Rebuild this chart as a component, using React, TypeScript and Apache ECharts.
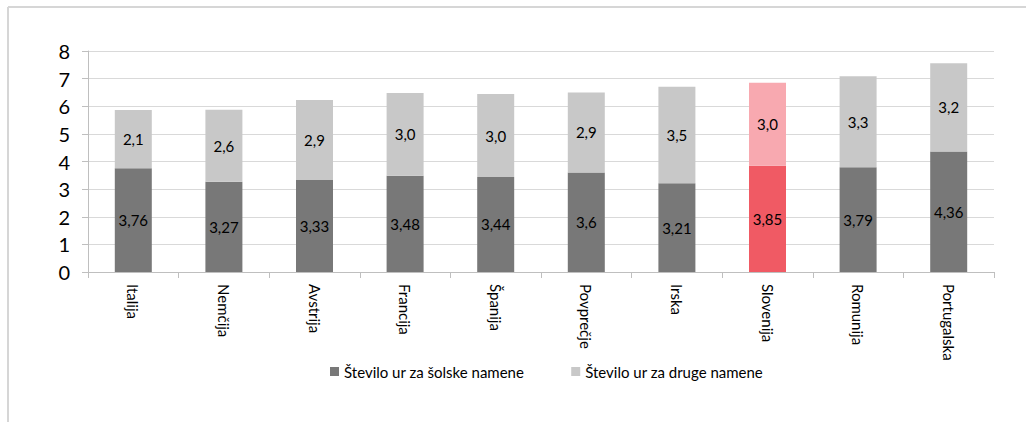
import React, { useEffect, useRef } from "react";
import * as echarts from "echarts";

const categories = [
  "Italija",
  "Nemčija",
  "Avstrija",
  "Francija",
  "Španija",
  "Povprečje",
  "Irska",
  "Slovenija",
  "Romunija",
  "Portugalska",
];
const schoolHours = [3.76, 3.27, 3.33, 3.48, 3.44, 3.6, 3.21, 3.85, 3.79, 4.36];
const otherHours = [2.1, 2.6, 2.9, 3.0, 3.0, 2.9, 3.5, 3.0, 3.3, 3.2];
const yTicks = [0, 1, 2, 3, 4, 5, 6, 7, 8];
const highlight = "Slovenija";

const FONT = "Lato, 'Open Sans', sans-serif";
const DARK = "#787878";
const LIGHT = "#c8c8c8";
const RED_DARK = "#f05a64";
const RED_LIGHT = "#f8a9b0";

const comma = (v: number, digits?: number) =>
  (digits === undefined ? String(v) : v.toFixed(digits)).replace(".", ",");

export default function App() {
  const ref = useRef<HTMLDivElement>(null);

  useEffect(() => {
    if (!ref.current) return;
    const chart = echarts.init(ref.current, null, { renderer: "svg" });

    const schoolData = schoolHours.map((v, i) => ({
      value: v,
      itemStyle: { color: categories[i] === highlight ? RED_DARK : DARK },
    }));
    const otherData = otherHours.map((v, i) => ({
      value: v,
      itemStyle: { color: categories[i] === highlight ? RED_LIGHT : LIGHT },
    }));

    chart.setOption({
      animation: false,
      backgroundColor: "#ffffff",
      textStyle: { fontFamily: FONT },
      grid: { left: 88, right: 32, top: 51, bottom: 150, containLabel: false },
      legend: {
        left: 325,
        top: 359,
        itemWidth: 9,
        itemHeight: 9,
        itemGap: 47,
        icon: "rect",
        textStyle: { fontFamily: FONT, fontSize: 15, color: "#000" },
        data: [
          { name: "Število ur za šolske namene", itemStyle: { color: DARK } },
          { name: "Število ur za druge namene", itemStyle: { color: LIGHT } },
        ],
      },
      graphic: [
        {
          type: "line",
          shape: { x1: 8, y1: 7, x2: 1026, y2: 7 },
          style: { stroke: "#d6d6d6", lineWidth: 2 },
        },
        {
          type: "line",
          shape: { x1: 8, y1: 7, x2: 8, y2: 422 },
          style: { stroke: "#d6d6d6", lineWidth: 2 },
        },
      ],
      xAxis: {
        type: "category",
        data: categories,
        axisLine: { show: true, lineStyle: { color: "#bfbfbf", width: 1 } },
        axisTick: { show: true, length: 6, alignWithLabel: false, lineStyle: { color: "#bfbfbf" } },
        axisLabel: {
          rotate: -90,
          interval: 0,
          margin: 12,
          fontFamily: FONT,
          fontSize: 15,
          color: "#000",
        },
      },
      yAxis: {
        type: "value",
        min: yTicks[0],
        max: yTicks[yTicks.length - 1],
        interval: 1,
        axisLine: { show: true, lineStyle: { color: "#bfbfbf", width: 1 } },
        axisTick: { show: true, length: 6, lineStyle: { color: "#bfbfbf" } },
        splitLine: { show: true, lineStyle: { color: "#d9d9d9", width: 1 } },
        axisLabel: {
          margin: 18,
          fontFamily: FONT,
          fontSize: 20,
          color: "#000",
        },
      },
      series: [
        {
          name: "Število ur za šolske namene",
          type: "bar",
          stack: "hours",
          barWidth: 37,
          data: schoolData,
          label: {
            show: true,
            position: "inside",
            fontFamily: FONT,
            fontSize: 15,
            color: "#000",
            formatter: (p: any) => comma(p.value),
          },
        },
        {
          name: "Število ur za druge namene",
          type: "bar",
          stack: "hours",
          barWidth: 37,
          data: otherData,
          label: {
            show: true,
            position: "inside",
            fontFamily: FONT,
            fontSize: 15,
            color: "#000",
            formatter: (p: any) => comma(p.value, 1),
          },
        },
      ],
    });

    return () => chart.dispose();
  }, []);

  return (
    <div
      ref={ref}
      style={{ position: "fixed", left: 0, top: 0, width: 1026, height: 422, background: "#fff" }}
    />
  );
}
